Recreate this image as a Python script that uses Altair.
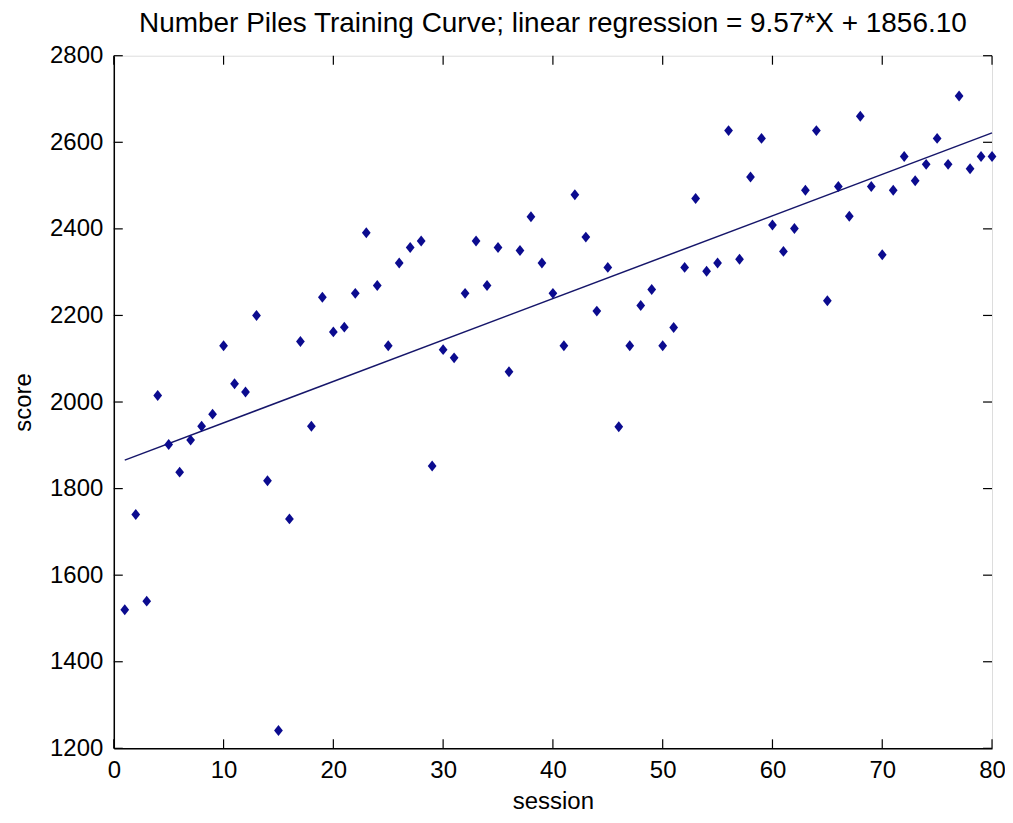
import altair as alt
import pandas as pd

# ---- data ----
sessions = list(range(1, 81))
scores = [
    1520, 1740, 1540, 2015, 1902, 1838, 1912, 1944, 1972, 2130,
    2042, 2023, 2200, 1818, 1241, 1730, 2140, 1944, 2242, 2162,
    2173, 2251, 2391, 2269, 2130, 2321, 2357, 2372, 1852, 2121,
    2102, 2251, 2372, 2269, 2357, 2070, 2350, 2428, 2321, 2251,
    2130, 2479, 2381, 2210, 2311, 1943, 2130, 2223, 2260, 2130,
    2172, 2311, 2470, 2302, 2321, 2627, 2330, 2520, 2609, 2409,
    2348, 2401, 2489, 2627, 2234, 2498, 2429, 2660, 2498, 2340,
    2489, 2567, 2511, 2549, 2609, 2549, 2707, 2539, 2567, 2567,
]
fit_x = [1, 80]
fit_y = [1865.67, 2621.70]
x_ticks = [0, 10, 20, 30, 40, 50, 60, 70, 80]
y_ticks = [1200, 1400, 1600, 1800, 2000, 2200, 2400, 2600, 2800]
title_text = "Number Piles Training Curve; linear regression = 9.57*X + 1856.10"

W, H = 880, 694
TL = 9
FONT = "Liberation Sans, Arial, sans-serif"

pts = pd.DataFrame({"session": sessions, "score": scores})
fit = pd.DataFrame({"session": fit_x, "score": fit_y})
xt = pd.DataFrame({"v": x_ticks})
yt = pd.DataFrame({"v": y_ticks})

xs = alt.Scale(domain=[0, 80], nice=False, zero=False)
ys = alt.Scale(domain=[1200, 2800], nice=False, zero=False)

common = dict(ticks=False, grid=False, domain=True, domainColor="black",
              domainWidth=1.5, labelFontSize=24, labelFont=FONT,
              labelColor="black", labelFlush=False, labelBound=False,
              format="d", titleFont=FONT, titleFontSize=24,
              titleFontWeight="normal", titleColor="black")

x_axis = alt.Axis(values=x_ticks, labelPadding=10, title="session",
                  titleX=W / 2, titleY=53, titleBaseline="middle",
                  titleAlign="center", **common)
y_axis = alt.Axis(values=y_ticks, labelPadding=11, title="score",
                  titleX=-90, titleY=H / 2, titleAngle=270,
                  titleBaseline="middle", titleAlign="center", **common)

points = alt.Chart(pts).mark_point(
    shape="M-0.8,0L0,-1L0.8,0L0,1Z", filled=True, size=120,
    color="#0b0b8f", opacity=1,
).encode(
    x=alt.X("session:Q", scale=xs, axis=x_axis),
    y=alt.Y("score:Q", scale=ys, axis=y_axis),
)

line = alt.Chart(fit).mark_line(color="#16166a", strokeWidth=1.5).encode(
    x=alt.X("session:Q", scale=xs),
    y=alt.Y("score:Q", scale=ys),
)

tick_kw = dict(color="black", strokeWidth=1.2)
left_ticks = alt.Chart(yt).mark_rule(**tick_kw).encode(
    y=alt.Y("v:Q", scale=ys), x=alt.value(0), x2=alt.value(TL))
right_ticks = alt.Chart(yt).mark_rule(**tick_kw).encode(
    y=alt.Y("v:Q", scale=ys), x=alt.value(W - TL), x2=alt.value(W))
bottom_ticks = alt.Chart(xt).mark_rule(**tick_kw).encode(
    x=alt.X("v:Q", scale=xs), y=alt.value(H - TL), y2=alt.value(H))
top_ticks = alt.Chart(xt).mark_rule(**tick_kw).encode(
    x=alt.X("v:Q", scale=xs), y=alt.value(0), y2=alt.value(TL))

chart = alt.layer(
    left_ticks, right_ticks, bottom_ticks, top_ticks, line, points
).properties(
    width=W, height=H,
    title=alt.TitleParams(title_text, font=FONT, fontSize=28,
                          fontWeight="normal", color="black",
                          anchor="middle", offset=6),
    autosize=alt.AutoSizeParams(type="none"),
    padding={"left": 106, "top": 47, "right": 13, "bottom": 66},
).configure_view(
    stroke="black", strokeWidth=1.5
).configure(background="white")

chart.save("out.html", embed_options={"renderer": "svg", "actions": False})
